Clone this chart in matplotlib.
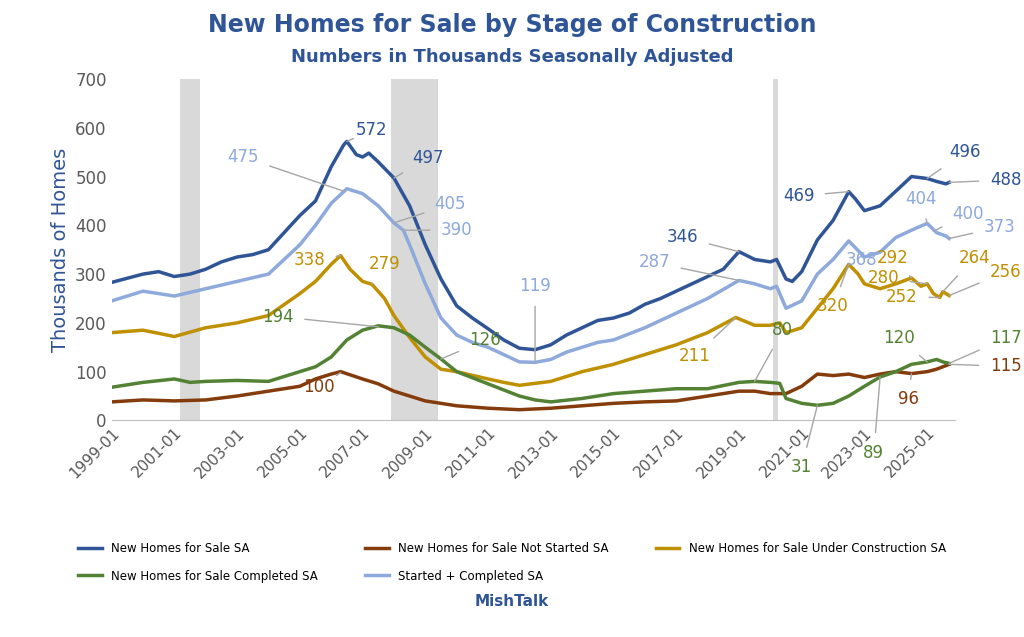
import numpy as np
from matplotlib import pyplot as plt

# decimal-year sample points
total_x = [1999, 2000, 2000.5, 2001, 2001.5, 2002, 2002.5, 2003, 2003.5, 2004, 2004.5, 2005, 2005.5, 2006, 2006.4, 2006.5, 2006.8, 2007, 2007.2, 2007.5, 2008, 2008.5, 2009, 2009.5, 2010, 2010.5, 2011, 2011.5, 2012, 2012.5, 2013, 2013.5, 2014, 2014.5, 2015, 2015.5, 2016, 2016.5, 2017, 2017.5, 2018, 2018.5, 2019, 2019.5, 2020, 2020.2, 2020.5, 2020.7, 2021, 2021.5, 2022, 2022.5, 2022.7, 2023, 2023.5, 2024, 2024.5, 2025, 2025.3, 2025.6, 2025.7]
total_y = [283, 300, 305, 295, 300, 310, 325, 335, 340, 350, 385, 420, 450, 520, 565, 572, 545, 540, 548, 530, 497, 440, 360, 290, 235, 210, 188, 165, 148, 145, 155, 175, 190, 205, 210, 220, 238, 250, 265, 280, 295, 310, 346, 330, 325, 330, 290, 285, 305, 370, 410, 469, 455, 430, 440, 470, 500, 496, 490, 485, 488]

light_x = [1999, 2000, 2001, 2002, 2003, 2004, 2004.5, 2005, 2005.5, 2006, 2006.5, 2007, 2007.5, 2008, 2008.3, 2008.5, 2009, 2009.5, 2010, 2010.5, 2011, 2011.5, 2012, 2012.5, 2013, 2013.5, 2014, 2014.5, 2015, 2016, 2017, 2018, 2019, 2019.5, 2020, 2020.2, 2020.5, 2021, 2021.5, 2022, 2022.5, 2023, 2023.5, 2024, 2024.5, 2025, 2025.3, 2025.6, 2025.7]
light_y = [245, 265, 255, 270, 285, 300, 330, 360, 400, 445, 475, 465, 440, 405, 390, 360, 280, 210, 175, 160, 150, 135, 120, 119, 125, 140, 150, 160, 165, 190, 220, 250, 287, 280, 270, 275, 230, 245, 300, 330, 368, 335, 345, 375, 390, 404, 385, 378, 373]

uc_x = [1999, 2000, 2001, 2002, 2003, 2004, 2005, 2005.5, 2006, 2006.3, 2006.6, 2007, 2007.3, 2007.7, 2008, 2008.5, 2009, 2009.5, 2010, 2011, 2011.5, 2012, 2013, 2014, 2015, 2016, 2017, 2018, 2018.9, 2019.5, 2020, 2020.3, 2020.5, 2021, 2021.5, 2022, 2022.5, 2022.8, 2023, 2023.5, 2024, 2024.5, 2024.8, 2025, 2025.2, 2025.4, 2025.5, 2025.7]
uc_y = [180, 185, 172, 190, 200, 215, 260, 285, 320, 338, 310, 285, 279, 250, 215, 170, 130, 105, 100, 85, 78, 72, 80, 100, 115, 135, 155, 180, 211, 195, 195, 200, 180, 190, 230, 270, 320, 300, 280, 270, 280, 292, 275, 280, 260, 252, 264, 256]

comp_x = [1999, 2000, 2001, 2001.5, 2002, 2003, 2004, 2005, 2005.5, 2006, 2006.5, 2007, 2007.5, 2008, 2008.5, 2009, 2009.5, 2010, 2011, 2012, 2012.5, 2013, 2014, 2015, 2016, 2017, 2018, 2019, 2019.5, 2020, 2020.3, 2020.5, 2021, 2021.5, 2022, 2022.5, 2023, 2023.5, 2024, 2024.5, 2025, 2025.3, 2025.5, 2025.7]
comp_y = [68, 78, 85, 78, 80, 82, 80, 100, 110, 130, 165, 185, 194, 190, 175, 150, 126, 100, 75, 50, 42, 38, 45, 55, 60, 65, 65, 78, 80, 78, 76, 45, 35, 31, 35, 50, 70, 89, 100, 115, 120, 125, 120, 117]

ns_x = [1999, 2000, 2001, 2002, 2003, 2004, 2005, 2005.5, 2006, 2006.3, 2007, 2007.5, 2008, 2009, 2010, 2011, 2012, 2013, 2014, 2015, 2016, 2017, 2018, 2019, 2019.5, 2020, 2020.5, 2021, 2021.5, 2022, 2022.5, 2023, 2023.5, 2024, 2024.5, 2025, 2025.3, 2025.7]
ns_y = [38, 42, 40, 42, 50, 60, 70, 85, 95, 100, 85, 75, 60, 40, 30, 25, 22, 25, 30, 35, 38, 40, 50, 60, 60, 55, 55, 70, 95, 92, 95, 88, 95, 100, 96, 100, 105, 115]

recessions = [(2001.17, 2001.83), (2007.92, 2009.42), (2020.08, 2020.25)]

C_TOT = "#2F5597"
C_LIGHT = "#8EA9DB"
C_UC = "#BF9000"
C_COMP = "#548235"
C_NS = "#843C0C"

# (label, text x, text y, point x, point y, colour)
notes = [
    ("572", 2007.3, 595, 2006.5, 572, C_TOT), ("497", 2009.1, 538, 2008, 497, C_TOT),
    ("475", 2003.2, 540, 2006.4, 470, C_LIGHT), ("405", 2009.8, 443, 2008, 405, C_LIGHT),
    ("390", 2010.0, 390, 2008.3, 390, C_LIGHT), ("338", 2005.3, 328, 2006.3, 338, C_UC),
    ("279", 2007.7, 320, 2007.3, 279, C_UC), ("194", 2004.3, 213, 2007.5, 192, C_COMP),
    ("100", 2005.6, 68, 2006.3, 98, C_NS), ("126", 2010.9, 164, 2009.5, 126, C_COMP),
    ("119", 2012.5, 275, 2012.5, 119, C_LIGHT), ("346", 2017.2, 376, 2019, 346, C_TOT),
    ("287", 2016.3, 324, 2019, 287, C_LIGHT), ("211", 2017.6, 133, 2018.9, 211, C_UC),
    ("80", 2020.4, 185, 2019.5, 80, C_COMP), ("469", 2020.9, 460, 2022.5, 469, C_TOT),
    ("368", 2022.9, 328, 2022.5, 368, C_LIGHT), ("320", 2022.0, 234, 2022.5, 320, C_UC),
    ("31", 2021.0, -96, 2021.5, 31, C_COMP), ("89", 2023.3, -66, 2023.5, 89, C_COMP),
    ("496", 2026.2, 550, 2025, 496, C_TOT), ("404", 2024.8, 454, 2025, 404, C_LIGHT),
    ("400", 2026.3, 423, 2025.2, 388, C_LIGHT), ("373", 2027.3, 396, 2025.7, 373, C_LIGHT),
    ("488", 2027.5, 493, 2025.7, 488, C_TOT), ("292", 2023.9, 333, 2024.5, 292, C_UC),
    ("280", 2023.6, 292, 2025, 280, C_UC), ("252", 2024.2, 253, 2025.4, 252, C_UC),
    ("264", 2026.5, 333, 2025.5, 264, C_UC), ("256", 2027.5, 304, 2025.7, 256, C_UC),
    ("120", 2024.1, 168, 2025, 120, C_COMP), ("117", 2027.5, 168, 2025.7, 117, C_COMP),
    ("115", 2027.5, 111, 2025.7, 115, C_NS), ("96", 2024.4, 43, 2024.5, 96, C_NS),
]

fig = plt.figure(figsize=(10.24, 6.37), dpi=100)
ax = fig.add_axes([0.109, 0.34, 0.824, 0.536])

for a, b in recessions:
    ax.axvspan(a, b, color="#D9D9D9", lw=0, zorder=0)

l_tot, = ax.plot(total_x, total_y, color=C_TOT, lw=2.5, label="New Homes for Sale SA")
l_ns, = ax.plot(ns_x, ns_y, color=C_NS, lw=2.5, label="New Homes for Sale Not Started SA")
l_uc, = ax.plot(uc_x, uc_y, color=C_UC, lw=2.5, label="New Homes for Sale Under Construction SA")
l_comp, = ax.plot(comp_x, comp_y, color=C_COMP, lw=2.5, label="New Homes for Sale Completed SA")
l_light, = ax.plot(light_x, light_y, color=C_LIGHT, lw=2.5, label="Started + Completed SA")

for txt, tx, ty, px, py, c in notes:
    ax.annotate(txt, xy=(px, py), xytext=(tx, ty), color=c, fontsize=12,
                ha="center", va="center", annotation_clip=False,
                arrowprops=dict(arrowstyle="-", color="#A6A6A6", lw=1, shrinkA=6, shrinkB=0))

ax.set_xlim(1999, 2025.9)
ax.set_ylim(0, 700)
ax.set_yticks(range(0, 701, 100))
years = np.arange(1999, 2026, 2)
ax.set_xticks(years)
ax.set_xticklabels([f"{y}-01" for y in years], rotation=45, ha="right", rotation_mode="anchor", fontsize=11)
ax.tick_params(axis="y", labelsize=12, length=0, labelcolor="#595959")
ax.tick_params(axis="x", length=0, labelcolor="#595959")
for s in ["top", "right", "left"]:
    ax.spines[s].set_visible(False)
ax.spines["bottom"].set_color("#BFBFBF")
ax.set_ylabel("Thousands of Homes", color=C_TOT, fontsize=14)

fig.text(0.5, 0.96, "New Homes for Sale by Stage of Construction", ha="center", va="center",
         color=C_TOT, fontsize=17, fontweight="bold")
fig.text(0.5, 0.91, "Numbers in Thousands Seasonally Adjusted", ha="center", va="center",
         color=C_TOT, fontsize=13, fontweight="bold")
# order so the legend reads row by row like the original
handles = [l_tot, l_comp, l_ns, l_light, l_uc]
fig.legend(handles, [h.get_label() for h in handles], loc="center", bbox_to_anchor=(0.5, 0.117),
           ncol=3, frameon=False, fontsize=8.5, handlelength=2, columnspacing=4, labelspacing=1.2)
fig.text(0.5, 0.055, "MishTalk", ha="center", va="center", color=C_TOT, fontsize=11, fontweight="bold")

plt.savefig("out.png")
